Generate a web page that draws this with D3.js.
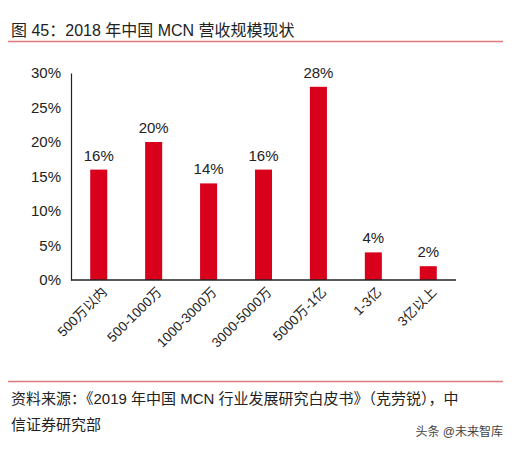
<!DOCTYPE html><html><head><meta charset="utf-8"><script src="https://cdn.jsdelivr.net/npm/d3@7"></script>
<style>body{margin:0;background:#fff}</style></head><body><svg width="514" height="451"></svg><script>
const categories=["500万以内","500-1000万","1000-3000万","3000-5000万","5000万-1亿","1-3亿","3亿以上"];
const values=[16,20,14,16,28,4,2];
const yTicks=[0,5,10,15,20,25,30];
const svg=d3.select("svg");
const F="'Liberation Sans','Noto Sans CJK SC',sans-serif";
svg.append("text").attr("x",11).attr("y",36).attr("font-family",F).attr("font-size",16).attr("fill","#222").text("图 45：2018 年中国 MCN 营收规模现状");
svg.append("line").attr("x1",8).attr("x2",503).attr("y1",41.5).attr("y2",41.5).attr("stroke","#e07a7a").attr("stroke-width",1.5);
svg.append("line").attr("x1",8).attr("x2",503).attr("y1",381.5).attr("y2",381.5).attr("stroke","#e07a7a").attr("stroke-width",1.5);
const x=d3.scaleBand().domain(categories).range([71,456]).paddingInner(0.69).paddingOuter(0.35);
const y=d3.scaleLinear().domain([0,30]).range([280,73]);
const g=svg.append("g");
g.selectAll("rect").data(values).join("rect").attr("x",(d,i)=>x(categories[i])).attr("width",x.bandwidth()).attr("y",d=>y(d)).attr("height",d=>y(0)-y(d)).attr("fill","#d9001b");
g.selectAll(".v").data(values).join("text").attr("x",(d,i)=>x(categories[i])+x.bandwidth()/2).attr("y",d=>y(d)-9).attr("text-anchor","middle").attr("font-family",F).attr("font-size",15).attr("fill","#222").text(d=>d+"%");
const ya=svg.append("g").attr("transform","translate(71,0)").call(d3.axisLeft(y).tickValues(yTicks).tickSize(0).tickPadding(10).tickFormat(d=>d+"%"));
ya.selectAll("text").attr("font-family",F).attr("font-size",15).attr("fill","#222");
ya.select(".domain").attr("stroke","#222").attr("stroke-width",1.2);
const xa=svg.append("g").attr("transform","translate(0,280)").call(d3.axisBottom(x).tickSize(0).tickPadding(0));
xa.select(".domain").attr("stroke","#222").attr("stroke-width",1.5).attr("d","M71,0H456");
xa.selectAll("text").attr("font-family",F).attr("font-size",13.5).attr("fill","#222").attr("text-anchor","end").attr("dy",0).attr("transform","translate(9,13) rotate(-45)");
svg.append("text").attr("x",11).attr("y",404).attr("font-family",F).attr("font-size",15).attr("fill","#222").text("资料来源：《2019 年中国 MCN 行业发展研究白皮书》（克劳锐），中");
svg.append("text").attr("x",11).attr("y",430).attr("font-family",F).attr("font-size",15).attr("fill","#222").text("信证券研究部");
svg.append("text").attr("x",503).attr("y",436).attr("text-anchor","end").attr("font-family",F).attr("font-size",12).attr("fill","#444").text("头条 @未来智库");
</script></body></html>
